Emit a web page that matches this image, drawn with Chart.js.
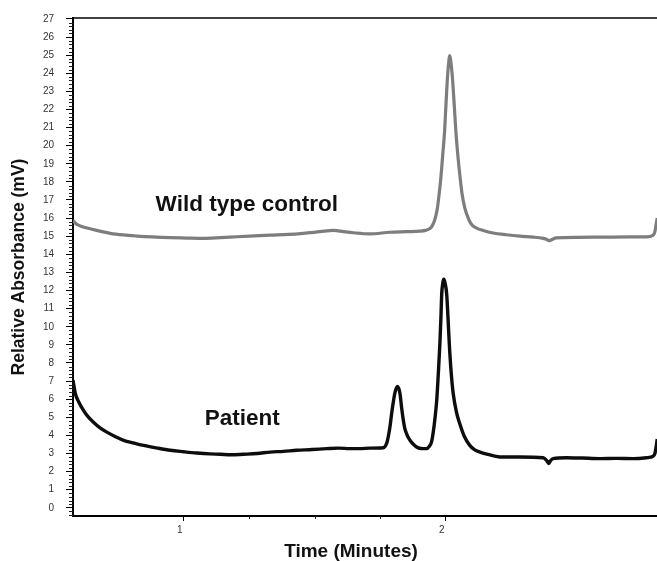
<!DOCTYPE html>
<html>
<head>
<meta charset="utf-8">
<script src="https://cdn.jsdelivr.net/npm/chart.js@4/dist/chart.umd.min.js"></script>
<style>
  html, body { margin: 0; padding: 0; background: #fff; overflow: hidden; }
  canvas { display: block; }
</style>
</head>
<body>
<canvas id="c" width="657" height="561"></canvas>
<script>
// ---- Data ----
const timeWild = [0.578,0.585,0.593,0.615,0.644,0.680,0.720,0.770,0.822,0.880,0.949,1.010,1.075,1.140,1.203,1.270,1.330,1.400,1.456,1.520,1.571,1.610,1.647,1.710,1.787,1.850,1.901,1.922,1.939,1.947,1.955,1.962,1.968,1.974,1.980,1.988,1.995,2.000,2.005,2.010,2.015,2.020,2.026,2.032,2.038,2.046,2.053,2.062,2.072,2.085,2.098,2.117,2.142,2.180,2.230,2.282,2.333,2.371,2.385,2.393,2.405,2.420,2.500,2.600,2.700,2.765,2.790,2.797,2.802,2.806];
const absWild  = [15.89,15.75,15.65,15.52,15.41,15.28,15.16,15.07,15.01,14.96,14.92,14.90,14.88,14.92,14.97,15.02,15.06,15.10,15.16,15.25,15.32,15.25,15.19,15.13,15.22,15.25,15.28,15.32,15.42,15.56,15.80,16.15,16.60,17.30,18.10,19.50,20.79,22.20,23.54,24.50,24.97,24.50,23.54,22.20,20.79,19.40,18.40,17.30,16.57,16.00,15.65,15.45,15.32,15.18,15.08,15.00,14.95,14.88,14.82,14.75,14.82,14.91,14.94,14.95,14.96,14.96,15.05,15.25,15.70,16.00];

const timePatient = [0.578,0.582,0.587,0.600,0.618,0.636,0.656,0.680,0.707,0.740,0.771,0.810,0.847,0.900,0.949,1.000,1.050,1.100,1.139,1.180,1.228,1.280,1.330,1.380,1.431,1.490,1.545,1.590,1.634,1.672,1.710,1.761,1.775,1.780,1.787,1.793,1.800,1.806,1.815,1.820,1.825,1.831,1.837,1.843,1.850,1.856,1.870,1.888,1.905,1.926,1.937,1.945,1.952,1.958,1.965,1.971,1.977,1.981,1.984,1.988,1.992,1.997,2.003,2.008,2.013,2.020,2.028,2.040,2.053,2.070,2.091,2.110,2.130,2.160,2.206,2.282,2.371,2.385,2.392,2.400,2.409,2.460,2.520,2.587,2.650,2.714,2.765,2.790,2.797,2.802,2.806];
const absPatient  = [7.05,6.70,6.30,5.85,5.38,5.02,4.73,4.43,4.18,3.93,3.73,3.58,3.45,3.30,3.18,3.10,3.03,2.98,2.96,2.93,2.96,3.00,3.08,3.12,3.18,3.22,3.27,3.30,3.27,3.27,3.30,3.32,3.60,3.91,4.50,5.20,5.90,6.38,6.70,6.60,6.30,5.55,4.90,4.40,4.10,3.90,3.60,3.36,3.28,3.27,3.40,3.63,4.20,4.90,5.93,7.40,9.05,10.50,11.80,12.40,12.62,12.40,11.80,10.50,9.05,7.50,6.30,5.30,4.64,3.95,3.45,3.20,3.08,2.95,2.81,2.81,2.77,2.60,2.45,2.62,2.72,2.77,2.75,2.72,2.73,2.72,2.77,2.85,3.00,3.40,3.80];

const yTickValues = [0,1,2,3,4,5,6,7,8,9,10,11,12,13,14,15,16,17,18,19,20,21,22,23,24,25,26,27];
const xTickValues = [1,2];
const xMinorTicks = [1.25,1.5,1.75];

const seriesLabels = ['Wild type control','Patient'];
const annotations = [
  { text: 'Wild type control', x: 0.893, y: 16.38 },
  { text: 'Patient', x: 1.080, y: 4.55 }
];
const xTitle = 'Time (Minutes)';
const yTitle = 'Relative Absorbance (mV)';

const FONT = '"Liberation Sans", Arial, Helvetica, sans-serif';

const toPts = (xs, ys) => xs.map((t, i) => ({ x: t, y: ys[i] }));

const extras = {
  id: 'extras',
  afterDraw(chart) {
    const { ctx, chartArea: a, scales: { x, y } } = chart;
    ctx.save();
    // top frame line
    ctx.strokeStyle = '#000';
    ctx.lineWidth = 1.5;
    ctx.beginPath();
    ctx.moveTo(a.left - 1, a.top);
    ctx.lineTo(a.right + 2, a.top);
    ctx.stroke();
    // y minor ticks every 0.2
    ctx.lineWidth = 1;
    ctx.strokeStyle = '#222';
    ctx.beginPath();
    for (let i = -2; i <= 135; i++) {
      if (i % 5 === 0) continue;
      const py = Math.round(y.getPixelForValue(i / 5)) + 0.5;
      ctx.moveTo(a.left - 4, py);
      ctx.lineTo(a.left, py);
    }
    ctx.stroke();
    // x minor ticks
    ctx.beginPath();
    xMinorTicks.forEach(v => {
      const px = Math.round(x.getPixelForValue(v)) + 0.5;
      ctx.moveTo(px, a.bottom);
      ctx.lineTo(px, a.bottom + 3);
    });
    ctx.stroke();
    // annotations
    ctx.fillStyle = '#111';
    ctx.font = 'bold 22.5px ' + FONT;
    ctx.textAlign = 'left';
    ctx.textBaseline = 'alphabetic';
    annotations.forEach(an => {
      ctx.fillText(an.text, x.getPixelForValue(an.x), y.getPixelForValue(an.y));
    });
    // x title
    ctx.font = 'bold 19px ' + FONT;
    ctx.textAlign = 'center';
    ctx.fillText(xTitle, 351, 557);
    ctx.restore();
  }
};

new Chart(document.getElementById('c'), {
  type: 'line',
  data: {
    datasets: [
      {
        label: seriesLabels[0],
        data: toPts(timeWild, absWild),
        borderColor: '#7d7d7d',
        borderWidth: 3.2,
        pointRadius: 0,
        cubicInterpolationMode: 'monotone',
        fill: false
      },
      {
        label: seriesLabels[1],
        data: toPts(timePatient, absPatient),
        borderColor: '#0d0d0d',
        borderWidth: 3.4,
        pointRadius: 0,
        cubicInterpolationMode: 'monotone',
        fill: false
      }
    ]
  },
  options: {
    responsive: false,
    animation: false,
    devicePixelRatio: 1,
    layout: { padding: { top: 16, right: 0, bottom: 0, left: 0 } },
    plugins: {
      legend: { display: false },
      tooltip: { enabled: false }
    },
    scales: {
      x: {
        type: 'linear',
        min: 0.578,
        max: 2.805,
        afterFit: s => { s.height = 45; },
        afterBuildTicks: s => { s.ticks = xTickValues.map(v => ({ value: v })); },
        grid: { display: true, drawOnChartArea: false, drawTicks: true, tickLength: 5, tickColor: '#000', tickWidth: 1 },
        border: { display: true, color: '#000', width: 2 },
        ticks: { color: '#333', font: { family: FONT, size: 10 }, padding: 3, labelOffset: -4, maxRotation: 0 }
      },
      y: {
        type: 'linear',
        min: -0.45,
        max: 27.05,
        afterFit: s => { s.width = 73; },
        afterBuildTicks: s => { s.ticks = yTickValues.map(v => ({ value: v })); },
        grid: { display: true, drawOnChartArea: false, drawTicks: true, tickLength: 7, tickColor: '#000', tickWidth: 1 },
        border: { display: true, color: '#000', width: 2 },
        ticks: { color: '#333', font: { family: FONT, size: 10 }, padding: 12 },
        title: {
          display: true,
          text: yTitle,
          color: '#111',
          font: { family: FONT, size: 17.5, weight: 'bold', lineHeight: 1.2 },
          padding: { top: 9, bottom: 0 }
        }
      }
    }
  },
  plugins: [extras]
});
</script>
</body>
</html>
